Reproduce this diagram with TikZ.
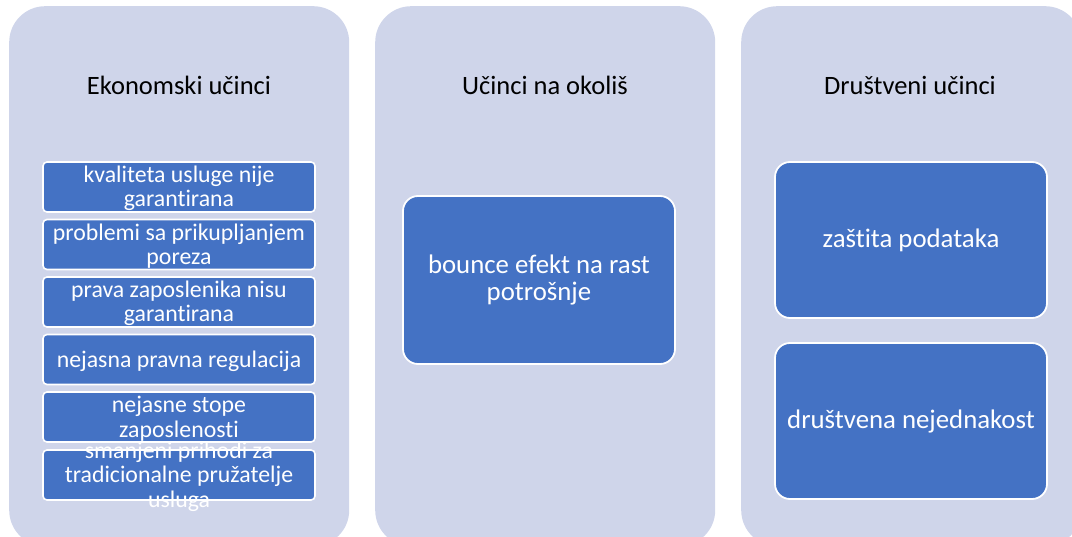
\documentclass[tikz,border=0pt]{standalone}
\usepackage{fontspec}
\setmainfont{Carlito}[Ligatures=NoCommon]
\definecolor{panelfill}{HTML}{CFD5EA}
\definecolor{boxfill}{HTML}{4472C4}
\begin{document}
\begin{tikzpicture}[x=1pt,y=-1pt,
  panel/.style={rectangle, rounded corners=36pt, fill=panelfill, inner sep=0pt, anchor=north west},
  title/.style={font=\fontsize{26.5}{28}\selectfont, text=black},
  sbox/.style={rectangle, rounded corners=4pt, fill=boxfill, draw=white, line width=1.6pt, minimum width=272pt, minimum height=50pt, inner sep=0pt},
  bbox/.style={rectangle, rounded corners=15pt, fill=boxfill, draw=white, line width=1.8pt, minimum width=272pt, inner sep=0pt},
  stext/.style={text=white, align=center, font=\fontsize{23.8}{24.5}\selectfont, inner sep=0pt},
  btext/.style={text=white, align=center, font=\fontsize{26.8}{27}\selectfont, inner sep=0pt}]
\useasboundingbox (0,0) rectangle (1072,537);
\begin{scope}
\clip (0,0) rectangle (1072,537);
\node[panel, minimum width=340pt, minimum height=540pt] (p1) at (9,6) {};
\node[panel, minimum width=340pt, minimum height=540pt] (p2) at (375,6) {};
\node[panel, minimum width=340pt, minimum height=540pt] (p3) at (741,6) {};
\end{scope}
\node[title] (t1) at (179,85) {Ekonomski učinci};
\node[title] (t2) at (545,85) {Učinci na okoliš};
\node[title] (t3) at (910,85) {Društveni učinci};
% economic boxes
\node[sbox] (e1) at (179,187) {};
\node[sbox] (e2) at (179,244.5) {};
\node[sbox] (e3) at (179,302) {};
\node[sbox] (e4) at (179,359.5) {};
\node[sbox] (e5) at (179,417) {};
\node[sbox] (e6) at (179,475) {};
\node[stext] (te1) at ([yshift=-1.5pt]e1) {kvaliteta usluge nije\\garantirana};
\node[stext] (te2) at ([yshift=-1.5pt]e2) {problemi sa prikupljanjem\\poreza};
\node[stext] (te3) at ([yshift=-1.5pt]e3) {prava zaposlenika nisu\\garantirana};
\node[stext] (te4) at ([yshift=-1.5pt]e4) {nejasna pravna regulacija};
\node[stext] (te5) at ([yshift=-1.5pt]e5) {nejasne stope\\zaposlenosti};
\node[stext] (te6) at ([yshift=-1.5pt]e6) {smanjeni prihodi za\\tradicionalne pružatelje\\usluga};
% environment box
\node[bbox, minimum height=168pt] (o1) at (539,280) {};
\node[btext] (to1) at (o1) {bounce efekt na rast\\potrošnje};
% social boxes
\node[bbox, minimum height=156pt] (d1) at (911,240) {};
\node[bbox, minimum height=156pt] (d2) at (911,421) {};
\node[btext] (td1) at (d1) {zaštita podataka};
\node[btext] (td2) at (d2) {društvena nejednakost};
\end{tikzpicture}
\end{document}
